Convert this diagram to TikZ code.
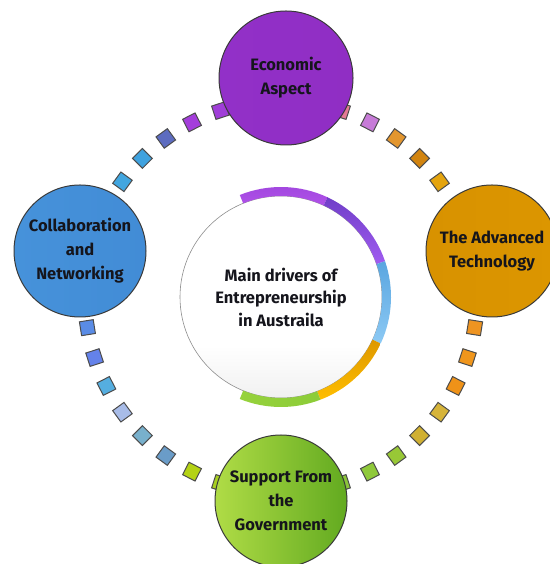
\documentclass[tikz,border=0pt]{standalone}
\usepackage{fontspec}
\setmainfont{Fira Sans}
\usepackage{xcolor}
\usepackage{tikz}
\usetikzlibrary{positioning, calc}
\usetikzlibrary{shapes.geometric}
\definecolor{ink}{HTML}{15151C}
\definecolor{edge}{HTML}{3A3A3A}
\pgfdeclareverticalshading{hubfade}{100bp}{color(0bp)=(black!13); color(22bp)=(black!7); color(38bp)=(white); color(100bp)=(white)}
\tikzset{
driver/.style = { circle, draw = edge, line width = 1pt, inner sep = 0pt, align = center, text = ink, font = \bfseries\fontsize{16.5}{24}\selectfont },
hub/.style = { circle, draw = black!45, line width = 0.6pt, inner sep = 0pt, align = center, text = ink, minimum size = 202pt, font = \bfseries\fontsize{16.5}{22.5}\selectfont },
tile/.style = { rectangle, draw = black!70, line width = 1pt, inner sep = 0pt, minimum size = 14pt },
}
\begin{document}
\begin{tikzpicture}[x=1pt, y=1pt]
      \useasboundingbox (0,0) rectangle (549,564);
      \coordinate (ctr) at (281,267);
      % small squares on the outer ring
      \begin{scope}[every node/.style={tile}]
        \node[fill = {rgb,255:red,160;green,62;blue,216}, rotate = 108] (q108) at ($(ctr)+(108:196)$) {};
        \node[fill = {rgb,255:red,164;green,61;blue,219}, rotate = 117] (q117) at ($(ctr)+(117:196)$) {};
        \node[fill = {rgb,255:red,93;green,108;blue,192}, rotate = 126] (q126) at ($(ctr)+(126:196)$) {};
        \node[fill = {rgb,255:red,63;green,162;blue,223}, rotate = 135] (q135) at ($(ctr)+(135:196)$) {};
        \node[fill = {rgb,255:red,65;green,166;blue,224}, rotate = 144] (q144) at ($(ctr)+(144:196)$) {};
        \node[fill = {rgb,255:red,229;green,122;blue,149}, rotate = 72] (q72) at ($(ctr)+(72:196)$) {};
        \node[fill = {rgb,255:red,199;green,123;blue,216}, rotate = 63] (q63) at ($(ctr)+(63:196)$) {};
        \node[fill = {rgb,255:red,227;green,150;blue,46}, rotate = 54] (q54) at ($(ctr)+(54:196)$) {};
        \node[fill = {rgb,255:red,210;green,132;blue,15}, rotate = 45] (q45) at ($(ctr)+(45:196)$) {};
        \node[fill = {rgb,255:red,228;green,164;blue,14}, rotate = 36] (q36) at ($(ctr)+(36:196)$) {};
        \node[fill = {rgb,255:red,238;green,148;blue,33}, rotate = -9] (qm9) at ($(ctr)+(-9:196)$) {};
        \node[fill = {rgb,255:red,240;green,150;blue,28}, rotate = -18] (qm18) at ($(ctr)+(-18:196)$) {};
        \node[fill = {rgb,255:red,239;green,146;blue,24}, rotate = -27] (qm27) at ($(ctr)+(-27:196)$) {};
        \node[fill = {rgb,255:red,214;green,180;blue,58}, rotate = -36] (qm36) at ($(ctr)+(-36:196)$) {};
        \node[fill = {rgb,255:red,208;green,176;blue,50}, rotate = -45] (qm45) at ($(ctr)+(-45:196)$) {};
        \node[fill = {rgb,255:red,152;green,200;blue,54}, rotate = -54] (qm54) at ($(ctr)+(-54:196)$) {};
        \node[fill = {rgb,255:red,143;green,201;blue,58}, rotate = -63] (qm63) at ($(ctr)+(-63:196)$) {};
        \node[fill = {rgb,255:red,139;green,197;blue,58}, rotate = -72] (qm72) at ($(ctr)+(-72:196)$) {};
        \node[fill = {rgb,255:red,90;green,140;blue,230}, rotate = 189] (q189) at ($(ctr)+(189:196)$) {};
        \node[fill = {rgb,255:red,100;green,130;blue,234}, rotate = 198] (q198) at ($(ctr)+(198:196)$) {};
        \node[fill = {rgb,255:red,85;green,174;blue,224}, rotate = 207] (q207) at ($(ctr)+(207:196)$) {};
        \node[fill = {rgb,255:red,168;green,188;blue,232}, rotate = 216] (q216) at ($(ctr)+(216:196)$) {};
        \node[fill = {rgb,255:red,120;green,176;blue,204}, rotate = 225] (q225) at ($(ctr)+(225:196)$) {};
        \node[fill = {rgb,255:red,106;green,156;blue,200}, rotate = 234] (q234) at ($(ctr)+(234:196)$) {};
        \node[fill = {rgb,255:red,180;green,210;blue,20}, rotate = 243] (q243) at ($(ctr)+(243:196)$) {};
        \node[fill = {rgb,255:red,168;green,208;blue,32}, rotate = 252] (q252) at ($(ctr)+(252:196)$) {};
      \end{scope}
      % centre circle and its coloured rim
      \node[hub, shading = hubfade] (main) at (ctr) {Main drivers of\\Entrepreneurship\\in Austraila};
      \path[top color = {rgb,255:red,160;green,70;blue,222}, bottom color = {rgb,255:red,176;green,82;blue,232}] ($(ctr)+(112:110)$) arc[start angle = 112, end angle = 65, radius = 110] -- ($(ctr)+(65:101)$) arc[start angle = 65, end angle = 112, radius = 101] -- cycle;
      \path[top color = {rgb,255:red,112;green,62;blue,200}, bottom color = {rgb,255:red,160;green,92;blue,240}] ($(ctr)+(65:110)$) arc[start angle = 65, end angle = 19, radius = 110] -- ($(ctr)+(19:101)$) arc[start angle = 19, end angle = 65, radius = 101] -- cycle;
      \path[top color = {rgb,255:red,90;green,166;blue,224}, bottom color = {rgb,255:red,140;green,201;blue,244}] ($(ctr)+(19:110)$) arc[start angle = 19, end angle = -25, radius = 110] -- ($(ctr)+(-25:101)$) arc[start angle = -25, end angle = 19, radius = 101] -- cycle;
      \path[top color = {rgb,255:red,222;green,152;blue,0}, bottom color = {rgb,255:red,255;green,190;blue,0}] ($(ctr)+(-25:110)$) arc[start angle = -25, end angle = -69, radius = 110] -- ($(ctr)+(-69:101)$) arc[start angle = -69, end angle = -25, radius = 101] -- cycle;
      \path[left color = {rgb,255:red,150;green,210;blue,60}, right color = {rgb,255:red,140;green,204;blue,56}] ($(ctr)+(-69:110)$) arc[start angle = -69, end angle = -112, radius = 110] -- ($(ctr)+(-112:101)$) arc[start angle = -112, end angle = -69, radius = 101] -- cycle;
      % the four drivers
      \begin{scope}[every node/.style={driver}]
        \node[minimum size = 134pt, left color = {rgb,255:red,146;green,48;blue,200}, middle color = {rgb,255:red,204;green,84;blue,250}, right color = {rgb,255:red,144;green,46;blue,196}] (econ) at (286,486) {Economic\\Aspect};
        \node[minimum size = 132pt, left color = {rgb,255:red,70;green,146;blue,218}, middle color = {rgb,255:red,118;green,188;blue,246}, right color = {rgb,255:red,66;green,140;blue,214}] (collab) at (80,313) {Collaboration\\and\\Networking};
        \node[minimum size = 132pt, left color = {rgb,255:red,216;green,146;blue,0}, middle color = {rgb,255:red,255;green,194;blue,0}, right color = {rgb,255:red,220;green,150;blue,0}] (tech) at (492,313) {The Advanced\\Technology};
        \node[minimum size = 132pt, left color = {rgb,255:red,176;green,220;blue,70}, middle color = {rgb,255:red,140;green,200;blue,48}, right color = {rgb,255:red,98;green,170;blue,32}] (govt) at (281,63) {Support From\\the\\Government};
      \end{scope}
    \end{tikzpicture}
\end{document}
